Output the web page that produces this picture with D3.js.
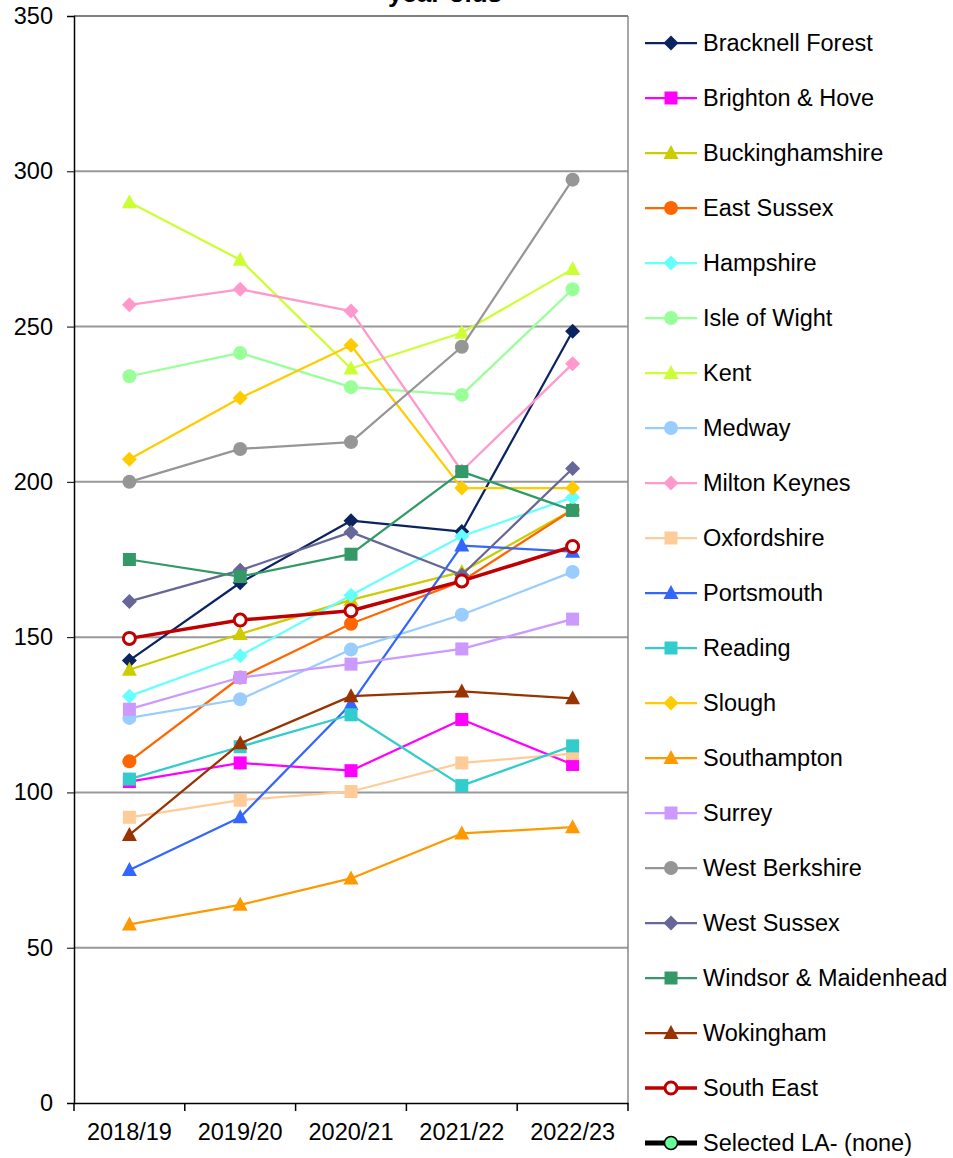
<!DOCTYPE html>
<html lang="en">
<head>
<meta charset="UTF-8">
<title>Chart</title>
<script src="https://d3js.org/d3.v7.min.js"></script>
<style>
  body { margin: 0; background: #fff; }
  svg { display: block; font-family: "Liberation Sans", Arial, sans-serif; }
</style>
</head>
<body>
<svg id="chart" width="953" height="1158"></svg>
<script>
// years on the x axis
const years = ["2018/19", "2019/20", "2020/21", "2021/22", "2022/23"];
const yTicks = [0, 50, 100, 150, 200, 250, 300, 350];

// one array per area
const bracknellForest = [142.5, 167.5, 187.5, 184, 248.5];
const brightonHove = [103.5, 109.5, 107, 123.5, 109];
const buckinghamshire = [139.5, 151, 162, 171, 191];
const eastSussex = [110, 137, 154.3, 168, 191];
const hampshire = [131, 144, 163.5, 182.5, 195];
const isleOfWight = [234, 241.5, 230.5, 228, 262];
const kent = [290, 271.5, 236.5, 248, 268.5];
const medway = [124, 130, 146, 157.2, 171];
const miltonKeynes = [257, 262, 255, 203.5, 238];
const oxfordshire = [92, 97.5, 100.3, 109.5, 112.5];
const portsmouth = [75, 92, 128.5, 179.5, 177.5];
const reading = [104.3, 114.7, 125, 102.2, 115];
const slough = [207.3, 227, 244, 198, 198];
const southampton = [57.5, 63.8, 72.3, 86.8, 88.8];
const surrey = [126.8, 137, 141.3, 146.2, 155.8];
const westBerkshire = [200, 210.6, 212.8, 243.5, 297.3];
const westSussex = [161.5, 171.5, 183.8, 170, 204.3];
const windsorMaidenhead = [175, 169.5, 176.7, 203.3, 190.8];
const wokingham = [86.3, 115.8, 131, 132.5, 130.3];
const southEast = [149.6, 155.5, 158.5, 168.1, 179.2];

const series = [
  { name: "Bracknell Forest", values: bracknellForest, color: "#0b2461", shape: "diamond" },
  { name: "Brighton & Hove", values: brightonHove, color: "#ff00ff", shape: "square" },
  { name: "Buckinghamshire", values: buckinghamshire, color: "#cccc00", shape: "triangle" },
  { name: "East Sussex", values: eastSussex, color: "#ff6600", shape: "circle" },
  { name: "Hampshire", values: hampshire, color: "#66ffff", shape: "diamond" },
  { name: "Isle of Wight", values: isleOfWight, color: "#99ff99", shape: "circle" },
  { name: "Kent", values: kent, color: "#ccff33", shape: "triangle" },
  { name: "Medway", values: medway, color: "#99ccff", shape: "circle" },
  { name: "Milton Keynes", values: miltonKeynes, color: "#ff99cc", shape: "diamond" },
  { name: "Oxfordshire", values: oxfordshire, color: "#ffcc99", shape: "square" },
  { name: "Portsmouth", values: portsmouth, color: "#3366ff", shape: "triangle" },
  { name: "Reading", values: reading, color: "#33cccc", shape: "square" },
  { name: "Slough", values: slough, color: "#ffcc00", shape: "diamond" },
  { name: "Southampton", values: southampton, color: "#ff9900", shape: "triangle" },
  { name: "Surrey", values: surrey, color: "#cc99ff", shape: "square" },
  { name: "West Berkshire", values: westBerkshire, color: "#969696", shape: "circle" },
  { name: "West Sussex", values: westSussex, color: "#666699", shape: "diamond" },
  { name: "Windsor & Maidenhead", values: windsorMaidenhead, color: "#339966", shape: "square" },
  { name: "Wokingham", values: wokingham, color: "#993300", shape: "triangle" },
  { name: "South East", values: southEast, color: "#c00000", shape: "open", width: 3.5 }
];

const svg = d3.select("#chart");
const plotLeft = 74, plotRight = 628, plotTop = 16, plotBottom = 1103;
const fontSize = 23.5;

const x = d3.scaleBand().domain(years).range([plotLeft, plotRight]);
const y = d3.scaleLinear().domain([0, 350]).range([plotBottom, plotTop]);
const cx = d => x(d) + x.bandwidth() / 2;

// title, mostly cut off at the top like in the original
svg.append("text")
  .attr("x", 445).attr("y", 2)
  .attr("text-anchor", "middle")
  .attr("font-size", 26).attr("font-weight", "bold")
  .text("year olds");

// gridlines
svg.append("g").selectAll("line")
  .data(yTicks.filter(t => t > 0 && t < 350))
  .join("line")
  .attr("x1", plotLeft).attr("x2", plotRight)
  .attr("y1", d => y(d)).attr("y2", d => y(d))
  .attr("stroke", "#999").attr("stroke-width", 2);

// plot frame
svg.append("line").attr("x1", plotLeft).attr("x2", plotRight).attr("y1", plotTop).attr("y2", plotTop)
  .attr("stroke", "#555").attr("stroke-width", 1.5);
svg.append("line").attr("x1", plotRight).attr("x2", plotRight).attr("y1", plotTop).attr("y2", plotBottom)
  .attr("stroke", "#888").attr("stroke-width", 1.5);

// axes
const yAxis = svg.append("g")
  .attr("transform", `translate(${plotLeft},0)`)
  .call(d3.axisLeft(y).tickValues(yTicks).tickSize(7).tickPadding(14).tickFormat(d3.format("d")));
yAxis.select(".domain").attr("stroke", "#000").attr("stroke-width", 1.5);
yAxis.selectAll("text").attr("font-size", fontSize).attr("fill", "#000")
  .attr("font-family", "Liberation Sans, Arial, sans-serif");

const xAxis = svg.append("g")
  .attr("transform", `translate(0,${plotBottom})`)
  .call(d3.axisBottom(x).tickSize(0).tickPadding(20));
xAxis.select(".domain").attr("stroke", "#000").attr("stroke-width", 1.5);
xAxis.selectAll("text").attr("font-size", fontSize).attr("fill", "#000")
  .attr("font-family", "Liberation Sans, Arial, sans-serif");
// tick marks between the categories
xAxis.append("g").selectAll("line")
  .data(d3.range(years.length + 1))
  .join("line")
  .attr("x1", i => plotLeft + i * x.step()).attr("x2", i => plotLeft + i * x.step())
  .attr("y1", 0).attr("y2", 8)
  .attr("stroke", "#000").attr("stroke-width", 1.5);

function drawMarker(g, shape, color, px, py) {
  if (shape === "diamond") {
    g.append("path").attr("d", `M${px},${py - 7.5}L${px + 7.5},${py}L${px},${py + 7.5}L${px - 7.5},${py}Z`)
      .attr("fill", color);
  } else if (shape === "square") {
    g.append("rect").attr("x", px - 6.5).attr("y", py - 6.5).attr("width", 13).attr("height", 13)
      .attr("fill", color);
  } else if (shape === "triangle") {
    g.append("path").attr("d", `M${px},${py - 8}L${px + 7.5},${py + 6}L${px - 7.5},${py + 6}Z`)
      .attr("fill", color);
  } else if (shape === "circle") {
    g.append("circle").attr("cx", px).attr("cy", py).attr("r", 7).attr("fill", color);
  } else if (shape === "open") {
    g.append("circle").attr("cx", px).attr("cy", py).attr("r", 6)
      .attr("fill", "#fff").attr("stroke", color).attr("stroke-width", 3);
  } else if (shape === "selected") {
    g.append("circle").attr("cx", px).attr("cy", py).attr("r", 6.5)
      .attr("fill", "#66ff99").attr("stroke", "#000").attr("stroke-width", 1.5);
  }
}

const line = d3.line().x((d, i) => cx(years[i])).y(d => y(d));

series.forEach(s => {
  const g = svg.append("g");
  g.append("path")
    .attr("d", line(s.values))
    .attr("fill", "none")
    .attr("stroke", s.color)
    .attr("stroke-width", s.width || 2.25)
    .attr("stroke-linejoin", "round");
  s.values.forEach((v, i) => drawMarker(g, s.shape, s.color, cx(years[i]), y(v)));
});

// legend
const legendItems = series.concat([{ name: "Selected LA- (none)", color: "#000", shape: "selected", width: 5 }]);
legendItems.forEach((s, i) => {
  const ly = 43 + i * 55;
  const g = svg.append("g");
  g.append("line").attr("x1", 645).attr("x2", 697).attr("y1", ly).attr("y2", ly)
    .attr("stroke", s.color).attr("stroke-width", s.width || 2.25);
  drawMarker(g, s.shape, s.color, 671, ly);
  g.append("text").attr("x", 703).attr("y", ly + 8)
    .attr("font-size", fontSize).text(s.name);
});
</script>
</body>
</html>
